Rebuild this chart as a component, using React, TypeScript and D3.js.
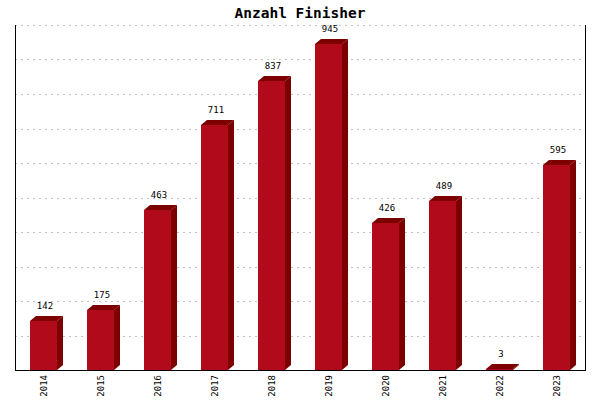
import React from "react";
import * as d3 from "d3";

const categories = ["2014", "2015", "2016", "2017", "2018", "2019", "2020", "2021", "2022", "2023"];
const values = [142, 175, 463, 711, 837, 945, 426, 489, 3, 595];
const gridTicks = [0, 100, 200, 300, 400, 500, 600, 700, 800, 900, 1000];
const title = "Anzahl Finisher";

const W = 600, H = 400;
const L = 15, R = 585, T = 25, B = 370;
const DX = 6, DY = 5;

export default function App() {
  const x = d3.scaleBand<string>().domain(categories).range([L, R]).paddingInner(0.53).paddingOuter(0.265);
  const y = d3.scaleLinear().domain([0, 1000]).range([B, T]);
  const bw = x.bandwidth();
  return (
    <svg width={W} height={H} style={{ position: "absolute", left: 0, top: 0, background: "#fff" }}>
      <rect x={0} y={0} width={W} height={H} fill="#fff" />
      {gridTicks.slice(1).map((t) => (
        <line key={t} x1={L} x2={R} y1={Math.round(y(t)) + 0.5} y2={Math.round(y(t)) + 0.5}
          stroke="#c0c0c0" strokeDasharray="2,4" />
      ))}
      {values.map((v, i) => {
        const x0 = Math.round(x(categories[i])!);
        const x1 = x0 + Math.round(bw);
        const yt = Math.round(y(v));
        return (
          <g key={i}>
            <polygon points={`${x0},${yt} ${x0 + DX},${yt - DY} ${x1 + DX},${yt - DY} ${x1},${yt}`} fill="#7d0000" />
            <polygon points={`${x1},${yt} ${x1 + DX},${yt - DY} ${x1 + DX},${B - DY} ${x1},${B}`} fill="#7d0000" />
            <rect x={x0} y={yt} width={x1 - x0} height={B - yt} fill="#b00a1b" />
            <text x={(x0 + x1) / 2 + 1.5} y={yt - DY - 7} textAnchor="middle"
              fontFamily="DejaVu Sans Mono" fontSize={9} fill="#000">{v}</text>
            <text transform={`translate(${(x0 + x1) / 2 + 3},${B + 5}) rotate(-90)`} textAnchor="end"
              fontFamily="DejaVu Sans Mono" fontSize={9} fill="#000">{categories[i]}</text>
          </g>
        );
      })}
      <line x1={L + 0.5} x2={L + 0.5} y1={T} y2={B} stroke="#000" />
      <line x1={R + 0.5} x2={R + 0.5} y1={T} y2={B} stroke="#000" />
      <line x1={L} x2={R + 1} y1={B + 0.5} y2={B + 0.5} stroke="#000" />
      <text x={W / 2} y={18} textAnchor="middle" fontFamily="DejaVu Sans Mono" fontWeight="bold" fontSize={14.5} fill="#000">{title}</text>
    </svg>
  );
}
